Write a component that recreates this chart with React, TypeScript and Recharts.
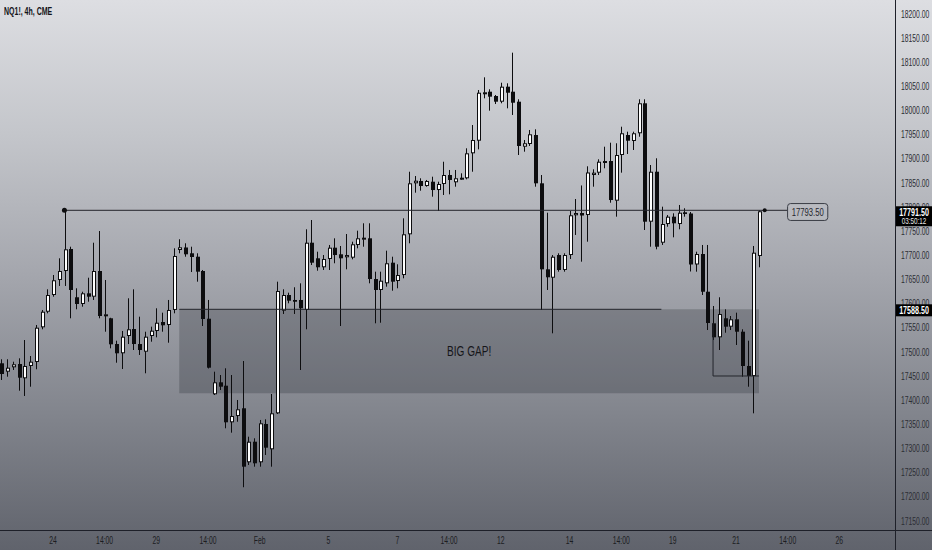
import React from 'react';
import { ComposedChart, Bar, Line, XAxis, YAxis, ReferenceArea, ReferenceLine, ReferenceDot } from 'recharts';

// ---- OHLC series (NQ1!, 4h) ----
const opens = [
  17476.7, 17459.3, 17468.4, 17475.2, 17445.6, 17471.1, 17479.4, 17551.2, 17583.5, 17618.1,
  17649.2, 17667.8, 17713.4, 17613.4, 17599.5, 17621.6, 17614.6, 17667.8, 17574.0, 17569.9,
  17516.6, 17497.4, 17533.2, 17547.7, 17516.6, 17500.7, 17533.2, 17543.6, 17562.2, 17556.0,
  17587.1, 17711.3, 17716.5, 17704.5, 17697.4, 17667.8, 17569.0, 17412.5, 17437.3, 17430.3,
  17354.5, 17367.5, 17383.5, 17271.7, 17314.3, 17271.7, 17351.0, 17298.6, 17373.1, 17585.6,
  17618.1, 17607.8, 17607.8, 17587.1, 17726.4, 17694.1, 17675.5, 17692.7, 17716.1, 17702.4,
  17696.2, 17695.4, 17721.7, 17734.1, 17735.5, 17651.2, 17628.5, 17642.3, 17685.0, 17647.1,
  17659.5, 17743.8, 17849.4, 17854.2, 17843.8, 17852.7, 17835.5, 17848.0, 17866.6, 17851.5,
  17857.7, 17859.8, 17911.5, 17937.6, 18034.3, 18039.1, 18030.2, 18018.4, 18049.5, 18039.1,
  18018.4, 17925.2, 17930.8, 17949.4, 17849.4, 17671.3, 17653.9, 17700.9, 17669.9, 17700.9,
  17783.2, 17787.9, 17783.8, 17866.6, 17871.4, 17892.9, 17895.6, 17813.4, 17908.0, 17949.4,
  17937.0, 17953.0, 18015.1, 17769.9, 17873.4, 17726.4, 17765.1, 17780.3, 17765.1, 17789.4,
  17786.9, 17681.3, 17703.0, 17624.9, 17559.5, 17530.5, 17569.9, 17552.5, 17567.8, 17542.1,
  17471.1, 17450.4, 17698.9,
];
const highs = [
  17485.0, 17485.0, 17480.0, 17487.0, 17524.9, 17491.8, 17556.0, 17587.1, 17629.9, 17659.5,
  17694.1, 17793.5, 17718.1, 17632.0, 17624.9, 17653.9, 17726.4, 17750.6, 17649.2, 17571.0,
  17523.5, 17543.6, 17611.3, 17629.9, 17573.2, 17542.1, 17552.5, 17590.6, 17581.5, 17607.8,
  17714.8, 17733.5, 17725.2, 17718.1, 17704.5, 17669.9, 17607.8, 17459.3, 17452.4, 17466.3,
  17452.4, 17400.7, 17481.4, 17324.7, 17321.4, 17359.3, 17360.7, 17413.1, 17645.7, 17629.9,
  17622.9, 17634.1, 17642.3, 17754.2, 17773.4, 17707.8, 17700.9, 17721.7, 17735.5, 17719.6,
  17744.4, 17728.5, 17751.3, 17766.6, 17766.6, 17666.4, 17666.4, 17709.9, 17697.4, 17681.7,
  17776.9, 17873.4, 17864.5, 17859.8, 17856.3, 17863.1, 17852.7, 17894.1, 17877.0, 17877.0,
  17870.1, 17921.9, 17970.1, 18042.6, 18068.9, 18044.1, 18032.3, 18057.7, 18056.5, 18119.9,
  18023.4, 17939.1, 17959.8, 17961.2, 17866.6, 17788.5, 17700.9, 17704.5, 17704.5, 17792.1,
  17816.9, 17844.9, 17884.6, 17878.4, 17899.1, 17925.2, 17933.5, 17932.3, 17966.6, 17956.3,
  17956.3, 18023.4, 18023.4, 17887.3, 17901.2, 17801.0, 17783.8, 17787.3, 17804.5, 17797.7,
  17790.0, 17707.8, 17721.7, 17721.7, 17595.3, 17613.4, 17588.5, 17574.6, 17581.5, 17547.1,
  17523.5, 17719.6, 17793.5,
];
const lows = [
  17442.1, 17448.9, 17462.8, 17419.9, 17409.0, 17428.2, 17464.3, 17547.1, 17580.2, 17614.6,
  17636.8, 17636.8, 17569.9, 17588.5, 17593.9, 17604.2, 17607.8, 17569.9, 17542.1, 17507.7,
  17477.9, 17464.9, 17516.6, 17504.2, 17493.9, 17456.0, 17521.4, 17530.5, 17542.1, 17519.3,
  17580.2, 17704.5, 17697.4, 17665.7, 17645.7, 17553.9, 17466.0, 17411.0, 17421.4, 17342.1,
  17333.0, 17355.7, 17220.0, 17266.1, 17262.6, 17262.6, 17286.8, 17262.6, 17371.7, 17578.8,
  17600.9, 17578.8, 17462.8, 17547.1, 17680.2, 17668.4, 17669.9, 17669.9, 17683.8, 17553.9,
  17671.3, 17692.0, 17714.8, 17718.1, 17642.3, 17559.5, 17560.7, 17635.3, 17627.0, 17632.0,
  17652.7, 17725.2, 17830.0, 17834.1, 17842.4, 17821.7, 17792.1, 17825.2, 17826.6, 17842.4,
  17856.3, 17857.7, 17873.4, 17919.8, 18025.4, 17999.8, 18013.6, 18015.1, 18004.7, 17990.9,
  17908.0, 17914.9, 17926.7, 17842.4, 17587.1, 17628.5, 17538.8, 17666.4, 17666.4, 17692.7,
  17742.4, 17687.1, 17728.5, 17842.4, 17866.6, 17880.5, 17809.2, 17780.3, 17871.4, 17910.1,
  17918.4, 17945.9, 17752.7, 17718.1, 17712.7, 17721.7, 17759.5, 17737.6, 17754.2, 17780.3,
  17666.8, 17666.4, 17618.1, 17545.6, 17524.9, 17504.2, 17540.0, 17545.6, 17514.6, 17448.9,
  17428.2, 17373.1, 17675.5,
];
const closes = [
  17454.5, 17467.6, 17474.6, 17446.9, 17471.1, 17480.0, 17550.4, 17583.5, 17618.1, 17648.6,
  17667.8, 17712.7, 17628.5, 17599.5, 17621.6, 17614.6, 17667.8, 17574.6, 17578.1, 17516.0,
  17497.4, 17531.8, 17547.1, 17516.6, 17504.2, 17531.8, 17544.2, 17560.7, 17555.4, 17587.1,
  17698.9, 17716.9, 17702.4, 17696.8, 17666.4, 17568.4, 17467.6, 17437.3, 17428.2, 17354.5,
  17367.5, 17381.4, 17262.6, 17314.3, 17269.6, 17352.4, 17301.9, 17373.1, 17626.4, 17618.1,
  17606.3, 17604.2, 17590.6, 17726.4, 17685.0, 17675.5, 17692.7, 17716.1, 17700.9, 17694.1,
  17700.9, 17723.1, 17735.5, 17736.8, 17651.2, 17628.5, 17647.7, 17683.8, 17645.7, 17659.5,
  17743.8, 17849.4, 17854.8, 17843.8, 17854.2, 17835.5, 17848.0, 17866.6, 17856.3, 17859.8,
  17861.0, 17911.5, 17939.1, 18037.0, 18037.9, 18028.8, 18018.4, 18049.5, 18037.0, 18016.3,
  17926.7, 17932.3, 17950.9, 17849.4, 17671.3, 17654.8, 17697.4, 17669.9, 17700.9, 17783.2,
  17787.9, 17782.7, 17871.8, 17871.4, 17894.1, 17895.6, 17814.8, 17908.0, 17953.0, 17937.6,
  17953.0, 18015.1, 17769.9, 17873.4, 17718.1, 17765.1, 17780.3, 17766.6, 17788.5, 17785.8,
  17681.3, 17703.0, 17624.9, 17560.1, 17530.5, 17578.8, 17552.5, 17567.8, 17542.1, 17471.1,
  17450.4, 17705.7, 17791.5,
];

// ---- axes ----
const xTickIndex = [10, 19, 28, 37, 46, 58, 70, 79, 88, 100, 109, 118, 129, 138, 147];
const xTickLabels = ['24', '14:00', '29', '14:00', 'Feb', '5', '7', '14:00', '12', '14', '14:00', '19', '21', '14:00', '26'];
const yTicks = [
  17150, 17200, 17250, 17300, 17350, 17400, 17450, 17500, 17550, 17600,
  17650, 17700, 17750, 17800, 17850, 17900, 17950, 18000, 18050, 18100, 18150, 18200,
];
const xDomain = [0.774, 156.7];
const yDomain = [17129.4, 18229];

// ---- annotations ----
const title = 'NQ1!, 4h, CME';
const lastPrice = 17791.5;
const countdown = '03:50:12';
const levelPrice = 17793.5;
const levelStart = 12;
const levelEnd = 134;
const levelBoxStart = 137.9;
const levelBoxEnd = 144.9;
const gapTop = 17588.5;
const gapBottom = 17414.6;
const gapStart = 32;
const gapEnd = 133;
const gapLineEnd = 116;
const bracketStart = 125;
const bracketTop = 17560;
const bracketPrice = 17450.4;
const gapText = 'BIG GAP!';
const tagPrices = [gapTop, lastPrice];

const data = opens.map((o, k) => ({
  i: k + 1,
  open: o,
  high: highs[k],
  low: lows[k],
  close: closes[k],
}));

const FONT = '"Liberation Sans", Arial, sans-serif';
const INK = '#0d0d0f';
const LINE = '#23252c';

const Candle = (props: any) => {
  const { x, y, width, height, payload } = props;
  if (x == null || y == null || !payload) return null;
  const top = Math.min(y, y + height);
  const bot = Math.max(y, y + height);
  const { open, close, high, low } = payload;
  const span = high - low || 1;
  const toY = (v: number) => top + ((high - v) / span) * (bot - top);
  const cx = Math.round(x + width / 2);
  const yo = toY(open);
  const yc = toY(close);
  const bTop = Math.min(yo, yc);
  const bBot = Math.max(yo, yc);
  const up = close >= open;
  const h = Math.max(bBot - bTop, 1);
  return (
    <g>
      <line x1={cx + 0.5} x2={cx + 0.5} y1={top} y2={bot} stroke={INK} strokeWidth={1} />
      {up ? (
        <rect x={cx - 0.5} y={bTop + 0.5} width={3} height={Math.max(h - 1, 1)} fill="#ffffff" stroke={INK} strokeWidth={1} />
      ) : (
        <rect x={cx - 1} y={bTop} width={4} height={h} fill={INK} />
      )}
    </g>
  );
};

const XTick = (props: any) => {
  const { x, y, payload } = props;
  const idx = xTickIndex.indexOf(payload.value);
  return (
    <text
      transform={`translate(${x},${y}) scale(0.68,1)`}
      dy={5}
      textAnchor="middle"
      fontSize={10}
      fontFamily={FONT}
      fill="#1c1d22"
    >
      {idx >= 0 ? xTickLabels[idx] : ''}
    </text>
  );
};

const YTick = (props: any) => {
  const { x, y, payload } = props;
  return (
    <text
      transform={`translate(${x},${y}) scale(0.68,1)`}
      dy={3.5}
      textAnchor="start"
      fontSize={10}
      fontFamily={FONT}
      fill="#2c2e34"
    >
      {Number(payload.value).toFixed(2)}
    </text>
  );
};

// price tags drawn by a thin second axis so they sit above the tick labels
const TagTick = (props: any) => {
  const { x, y, payload } = props;
  const v = Number(payload.value);
  const left = x - 35;
  const withSub = v === lastPrice;
  const h = withSub ? 20 : 12;
  return (
    <g>
      <rect x={left} y={y - 5} width={36} height={h} fill="#000000" />
      <text
        transform={`translate(${left + 18},${y + 4.5}) scale(0.68,1)`}
        textAnchor="middle"
        fontSize={10.5}
        fontWeight="bold"
        fontFamily={FONT}
        fill="#ffffff"
      >
        {v.toFixed(2)}
      </text>
      {withSub ? (
        <text
          transform={`translate(${left + 18},${y + 13.2}) scale(0.7,1)`}
          textAnchor="middle"
          fontSize={9}
          fontFamily={FONT}
          fill="#e8e8e8"
        >
          {countdown}
        </text>
      ) : null}
    </g>
  );
};

const LevelBox = (props: any) => {
  const { x, y, width, height } = props;
  if (x == null) return null;
  return (
    <g>
      <rect x={x + 0.5} y={y + 0.5} width={width} height={height} rx={3} ry={3} fill="rgba(255,255,255,0.08)" stroke="#3a3d46" strokeWidth={1} />
      <text
        transform={`translate(${x + width / 2 + 0.5},${y + height / 2 + 4}) scale(0.7,1)`}
        textAnchor="middle"
        fontSize={11}
        fontFamily={FONT}
        fill="#25272e"
      >
        {levelPrice.toFixed(2)}
      </text>
    </g>
  );
};

const GapLabel = (props: any) => {
  const { viewBox } = props;
  if (!viewBox) return null;
  const cx = viewBox.x + viewBox.width / 2;
  const cy = viewBox.y + viewBox.height / 2;
  return (
    <text
      transform={`translate(${cx},${cy + 5}) scale(0.72,1)`}
      textAnchor="middle"
      fontSize={14}
      fontFamily={FONT}
      fill="#15161a"
    >
      {gapText}
    </text>
  );
};

export default function App() {
  return (
    <div
      style={{
        position: 'absolute',
        left: 0,
        top: 0,
        width: 932,
        height: 550,
        background: 'linear-gradient(to bottom, #dddee2 0%, #c3c5ca 25%, #a4a6ad 50%, #82858d 75%, #60636c 100%)',
        overflow: 'hidden',
      }}
    >
      <div
        style={{
          position: 'absolute',
          left: 4,
          top: 6,
          fontFamily: FONT,
          fontWeight: 'bold',
          fontSize: 10,
          color: '#131418',
          transform: 'scale(0.7,1)',
          transformOrigin: 'left top',
          whiteSpace: 'nowrap',
          lineHeight: '12px',
        }}
      >
        {title}
      </div>
      <ComposedChart
        width={932}
        height={550}
        data={data}
        margin={{ top: 0, right: 0, bottom: 0, left: 0 }}
        style={{ position: 'absolute', left: 0, top: 0 }}
      >
        <ReferenceArea
          x1={gapStart}
          x2={gapEnd}
          y1={gapBottom}
          y2={gapTop}
          fill="#1b1d25"
          fillOpacity={0.24}
          stroke="none"
          label={<GapLabel />}
        />
        <XAxis
          dataKey="i"
          type="number"
          domain={xDomain}
          ticks={xTickIndex}
          allowDataOverflow
          height={19}
          tickSize={0}
          tickMargin={8}
          tickLine={false}
          axisLine={false}
          tick={<XTick />}
          interval={0}
        />
        <YAxis
          orientation="right"
          type="number"
          domain={yDomain}
          ticks={yTicks}
          allowDataOverflow
          width={36}
          tickSize={0}
          tickMargin={6}
          tickLine={false}
          axisLine={false}
          tick={<YTick />}
          interval={0}
        />
        <YAxis
          yAxisId="tags"
          orientation="right"
          type="number"
          domain={yDomain}
          ticks={tagPrices}
          allowDataOverflow
          width={1}
          tickSize={0}
          tickMargin={0}
          tickLine={false}
          axisLine={false}
          tick={<TagTick />}
          interval={0}
        />
        <Bar
          dataKey={(d: any) => [d.low, d.high]}
          barSize={4}
          shape={<Candle />}
          isAnimationActive={false}
        />
        <Line
          yAxisId="tags"
          dataKey="close"
          stroke="none"
          strokeOpacity={0}
          dot={false}
          activeDot={false}
          isAnimationActive={false}
        />
        <ReferenceLine
          segment={[{ x: gapStart, y: gapTop }, { x: gapLineEnd, y: gapTop }]}
          stroke={LINE}
          strokeWidth={1}
        />
        <ReferenceLine
          segment={[{ x: bracketStart, y: bracketTop }, { x: bracketStart, y: bracketPrice }]}
          stroke={LINE}
          strokeWidth={1}
        />
        <ReferenceLine
          segment={[{ x: bracketStart, y: bracketPrice }, { x: gapEnd, y: bracketPrice }]}
          stroke={LINE}
          strokeWidth={1}
        />
        <ReferenceLine
          segment={[{ x: levelStart, y: levelPrice }, { x: levelBoxStart, y: levelPrice }]}
          stroke={LINE}
          strokeWidth={1}
        />
        <ReferenceArea
          x1={levelBoxStart}
          x2={levelBoxEnd}
          y1={levelPrice - 20}
          y2={levelPrice + 15}
          shape={<LevelBox />}
        />
        <ReferenceDot x={levelStart} y={levelPrice} r={2.5} fill={INK} stroke="none" />
        <ReferenceDot x={levelEnd} y={levelPrice} r={2} fill={INK} stroke="none" />
      </ComposedChart>
      <div style={{ position: 'absolute', left: 895, top: 0, width: 1, height: 550, background: '#1e2029' }} />
      <div style={{ position: 'absolute', left: 0, top: 530, width: 932, height: 1, background: '#1e2029' }} />
    </div>
  );
}
